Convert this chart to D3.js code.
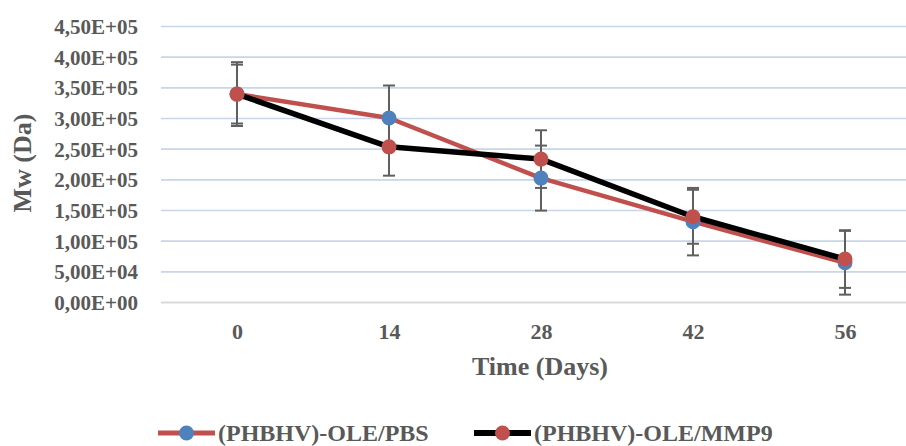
<!DOCTYPE html>
<html>
<head>
<meta charset="utf-8">
<script src="https://cdn.jsdelivr.net/npm/d3@7"></script>
<style>
	body { margin: 0; background: #fff; }
</style>
</head>
<body>
<svg id="chart" width="906" height="446"></svg>
<script>
// data
var days = [0, 14, 28, 42, 56];
var pbsMw = [339000, 300000, 202000, 131000, 64000];
var pbsErr = [52000, 53000, 53000, 55000, 52000];
var mmp9Mw = [339000, 253000, 233000, 139000, 70000];
var mmp9Err = [48000, 47000, 47000, 44000, 47000];
var yTicks = [0, 50000, 100000, 150000, 200000, 250000, 300000, 350000, 400000, 450000];

var series = [
	{ name: "(PHBHV)-OLE/PBS", values: pbsMw, err: pbsErr, line: "#c0504d", marker: "#4f81bd", width: 4.5 },
	{ name: "(PHBHV)-OLE/MMP9", values: mmp9Mw, err: mmp9Err, line: "#000000", marker: "#c0504d", width: 5.5 }
];

var svg = d3.select("#chart");
var margin = { left: 161, right: 921, top: 26, bottom: 302 };

var x = d3.scalePoint()
	.domain(days)
	.range([margin.left, margin.right])
	.padding(0.5);

var y = d3.scaleLinear()
	.domain([0, 450000])
	.range([margin.bottom, margin.top]);

// 4,50E+05 style labels
function sci(v) {
	if (v === 0) return "0,00E+00";
	var e = Math.floor(Math.log10(v));
	var m = v / Math.pow(10, e);
	return m.toFixed(2).replace(".", ",") + "E+" + (e < 10 ? "0" + e : e);
}

// y axis with grid
var yAxis = svg.append("g")
	.attr("transform", "translate(" + margin.left + ",0)")
	.call(d3.axisLeft(y).tickValues(yTicks).tickFormat(sci)
		.tickSize(-(margin.right - margin.left)).tickPadding(23));
yAxis.select(".domain").remove();
yAxis.selectAll(".tick line")
	.attr("stroke", function(d) { return d === 0 ? "#d9d9d9" : "#c7d6ea"; })
	.attr("stroke-width", function(d) { return d === 0 ? 2 : 1.6; });
yAxis.selectAll(".tick text")
	.style("font-size", "21px")
	.attr("dy", "0.36em");

// x axis labels
var xAxis = svg.append("g")
	.attr("transform", "translate(0," + margin.bottom + ")")
	.call(d3.axisBottom(x).tickSize(0).tickPadding(21));
xAxis.select(".domain").remove();
xAxis.selectAll(".tick text")
	.style("font-size", "22px");

// axis titles
svg.append("text")
	.attr("x", 540)
	.attr("y", 375)
	.attr("text-anchor", "middle")
	.style("font-size", "26px")
	.text("Time (Days)");

svg.append("text")
	.attr("transform", "translate(31,163) rotate(-90)")
	.attr("text-anchor", "middle")
	.style("font-size", "26px")
	.text("Mw (Da)");

// error bars
var bars = svg.append("g").attr("class", "errbars");
series.forEach(function(s) {
	s.values.forEach(function(v, i) {
		var cx = x(days[i]);
		var y1 = y(v + s.err[i]), y2 = y(v - s.err[i]);
		bars.append("line").attr("x1", cx).attr("x2", cx).attr("y1", y1).attr("y2", y2);
		bars.append("line").attr("x1", cx - 6).attr("x2", cx + 6).attr("y1", y1).attr("y2", y1);
		bars.append("line").attr("x1", cx - 6).attr("x2", cx + 6).attr("y1", y2).attr("y2", y2);
	});
});
bars.selectAll("line").attr("stroke", "#5f5f5f").attr("stroke-width", 2);

// lines
var line = d3.line()
	.x(function(d, i) { return x(days[i]); })
	.y(function(d) { return y(d); });

series.forEach(function(s) {
	svg.append("path")
		.datum(s.values)
		.attr("d", line)
		.attr("fill", "none")
		.attr("stroke", s.line)
		.attr("stroke-width", s.width)
		.attr("stroke-linejoin", "round");
});

series.forEach(function(s) {
	svg.append("g").selectAll("circle")
		.data(s.values)
		.enter()
		.append("circle")
		.attr("cx", function(d, i) { return x(days[i]); })
		.attr("cy", function(d) { return y(d); })
		.attr("r", 7.5)
		.attr("fill", s.marker);
});

// legend
var legendX = [158, 474];
var legend = svg.append("g").selectAll("g")
	.data(series)
	.enter()
	.append("g")
	.attr("transform", function(d, i) { return "translate(" + legendX[i] + ",433)"; });

legend.append("line")
	.attr("x1", 0).attr("x2", 57)
	.attr("stroke", function(d) { return d.line; })
	.attr("stroke-width", function(d) { return d.width + 0.5; });
legend.append("circle")
	.attr("cx", 28.5)
	.attr("r", 7.5)
	.attr("fill", function(d) { return d.marker; });
legend.append("text")
	.attr("x", 60)
	.attr("y", 8)
	.style("font-size", "24px")
	.text(function(d) { return d.name; });

// all text: bold serif, dark grey
svg.selectAll("text")
	.style("font-family", "'Liberation Serif'")
	.style("font-weight", "bold")
	.attr("fill", "#595959");
</script>
</body>
</html>
